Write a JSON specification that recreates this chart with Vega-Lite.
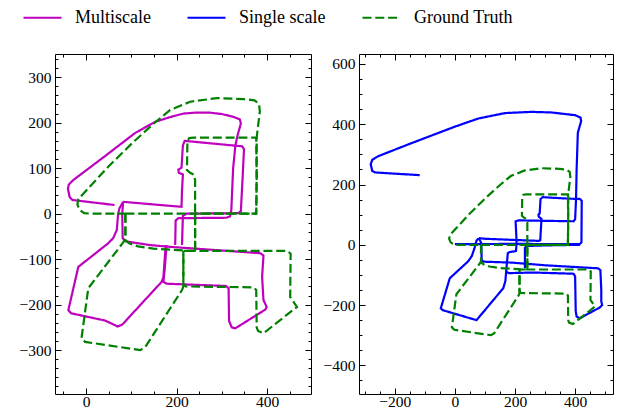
{
  "$schema": "https://vega.github.io/schema/vega-lite/v6.json",
  "autosize": {"type": "pad"},
  "padding": {"left": 18, "top": -3, "right": 4, "bottom": 2},
  "spacing": 10,
  "config": {
    "font": "Times New Roman, Liberation Serif, DejaVu Serif, serif",
    "view": {"stroke": "black", "strokeWidth": 1},
    "axis": {"domain": false, "grid": false, "labelFont": "Times New Roman, Liberation Serif, DejaVu Serif, serif", "labelFontSize": 15.5, "labelColor": "black", "tickColor": "black", "tickWidth": 1, "title": null, "labelOverlap": false, "labelBound": false, "labelFlush": false},
    "legend": {"labelFont": "Times New Roman, Liberation Serif, DejaVu Serif, serif", "padding": 0}
  },
  "datasets": {
    "gt": [
      {"s":"Ground Truth","g":1,"i":0,"x":87,"y":0},{"s":"Ground Truth","g":1,"i":1,"x":241,"y":0},{"s":"Ground Truth","g":1,"i":2,"x":376,"y":0},{"s":"Ground Truth","g":1,"i":3,"x":377,"y":90},{"s":"Ground Truth","g":1,"i":4,"x":377,"y":167},{"s":"Ground Truth","g":1,"i":5,"x":379,"y":184},{"s":"Ground Truth","g":1,"i":6,"x":384,"y":225},{"s":"Ground Truth","g":1,"i":7,"x":382,"y":242},{"s":"Ground Truth","g":1,"i":8,"x":372,"y":249},{"s":"Ground Truth","g":1,"i":9,"x":348,"y":252},{"s":"Ground Truth","g":1,"i":10,"x":289,"y":254},{"s":"Ground Truth","g":1,"i":11,"x":230,"y":246},{"s":"Ground Truth","g":1,"i":12,"x":186,"y":228},{"s":"Ground Truth","g":1,"i":13,"x":153,"y":201},{"s":"Ground Truth","g":1,"i":14,"x":105,"y":158},{"s":"Ground Truth","g":1,"i":15,"x":49,"y":103},{"s":"Ground Truth","g":1,"i":16,"x":-17,"y":32},{"s":"Ground Truth","g":1,"i":17,"x":-19,"y":20},{"s":"Ground Truth","g":1,"i":18,"x":-14,"y":8},{"s":"Ground Truth","g":1,"i":19,"x":-4,"y":1},{"s":"Ground Truth","g":1,"i":20,"x":10,"y":0},{"s":"Ground Truth","g":1,"i":21,"x":87,"y":0},
      {"s":"Ground Truth","g":2,"i":30,"x":241,"y":-82},{"s":"Ground Truth","g":2,"i":31,"x":241,"y":0},{"s":"Ground Truth","g":2,"i":32,"x":241,"y":74},{"s":"Ground Truth","g":2,"i":33,"x":238,"y":86},{"s":"Ground Truth","g":2,"i":34,"x":230,"y":90},{"s":"Ground Truth","g":2,"i":35,"x":223,"y":96},{"s":"Ground Truth","g":2,"i":36,"x":224,"y":160},{"s":"Ground Truth","g":2,"i":37,"x":228,"y":166},{"s":"Ground Truth","g":2,"i":38,"x":238,"y":167},{"s":"Ground Truth","g":2,"i":39,"x":376,"y":167},{"s":"Ground Truth","g":2,"i":40,"x":377,"y":80},{"s":"Ground Truth","g":2,"i":41,"x":376,"y":0},{"s":"Ground Truth","g":2,"i":42,"x":241,"y":0},
      {"s":"Ground Truth","g":3,"i":50,"x":87,"y":0},{"s":"Ground Truth","g":3,"i":51,"x":87,"y":-56},{"s":"Ground Truth","g":3,"i":52,"x":80,"y":-66},{"s":"Ground Truth","g":3,"i":53,"x":5,"y":-164},{"s":"Ground Truth","g":3,"i":54,"x":-10,"y":-274},{"s":"Ground Truth","g":3,"i":55,"x":-2,"y":-282},{"s":"Ground Truth","g":3,"i":56,"x":120,"y":-300},{"s":"Ground Truth","g":3,"i":57,"x":131,"y":-293},{"s":"Ground Truth","g":3,"i":58,"x":212,"y":-168},{"s":"Ground Truth","g":3,"i":59,"x":215,"y":-160},{"s":"Ground Truth","g":3,"i":60,"x":215,"y":-82},
      {"s":"Ground Truth","g":4,"i":70,"x":87,"y":0},{"s":"Ground Truth","g":4,"i":71,"x":87,"y":-58},{"s":"Ground Truth","g":4,"i":72,"x":95,"y":-65},{"s":"Ground Truth","g":4,"i":73,"x":115,"y":-72},{"s":"Ground Truth","g":4,"i":74,"x":149,"y":-77},{"s":"Ground Truth","g":4,"i":75,"x":215,"y":-81},{"s":"Ground Truth","g":4,"i":76,"x":241,"y":-82},{"s":"Ground Truth","g":4,"i":77,"x":445,"y":-82},{"s":"Ground Truth","g":4,"i":78,"x":452,"y":-88},{"s":"Ground Truth","g":4,"i":79,"x":451,"y":-183},{"s":"Ground Truth","g":4,"i":80,"x":466,"y":-205},{"s":"Ground Truth","g":4,"i":81,"x":392,"y":-263},{"s":"Ground Truth","g":4,"i":82,"x":380,"y":-258},{"s":"Ground Truth","g":4,"i":83,"x":377,"y":-250},{"s":"Ground Truth","g":4,"i":84,"x":376,"y":-168},{"s":"Ground Truth","g":4,"i":85,"x":370,"y":-162},{"s":"Ground Truth","g":4,"i":86,"x":220,"y":-160},{"s":"Ground Truth","g":4,"i":87,"x":215,"y":-155},{"s":"Ground Truth","g":4,"i":88,"x":215,"y":-82},{"s":"Ground Truth","g":4,"i":89,"x":241,"y":-82},{"s":"Ground Truth","g":4,"i":90,"x":241,"y":0}
    ],
    "ms": [
      {"s":"Multiscale","g":1,"i":0,"x":197,"y":-69},{"s":"Multiscale","g":1,"i":1,"x":198,"y":-15},{"s":"Multiscale","g":1,"i":2,"x":204,"y":-10},{"s":"Multiscale","g":1,"i":3,"x":310,"y":-9},{"s":"Multiscale","g":1,"i":4,"x":318,"y":-6},{"s":"Multiscale","g":1,"i":5,"x":321,"y":8},{"s":"Multiscale","g":1,"i":6,"x":325,"y":100},{"s":"Multiscale","g":1,"i":7,"x":330,"y":150},{"s":"Multiscale","g":1,"i":8,"x":335,"y":173},{"s":"Multiscale","g":1,"i":9,"x":342,"y":198},{"s":"Multiscale","g":1,"i":10,"x":340,"y":207},{"s":"Multiscale","g":1,"i":11,"x":325,"y":213},{"s":"Multiscale","g":1,"i":12,"x":300,"y":219},{"s":"Multiscale","g":1,"i":13,"x":274,"y":222},{"s":"Multiscale","g":1,"i":14,"x":240,"y":222},{"s":"Multiscale","g":1,"i":15,"x":215,"y":220},{"s":"Multiscale","g":1,"i":16,"x":185,"y":212},{"s":"Multiscale","g":1,"i":17,"x":153,"y":202},{"s":"Multiscale","g":1,"i":18,"x":108,"y":177},{"s":"Multiscale","g":1,"i":19,"x":40,"y":125},{"s":"Multiscale","g":1,"i":20,"x":-28,"y":74},{"s":"Multiscale","g":1,"i":21,"x":-38,"y":64},{"s":"Multiscale","g":1,"i":22,"x":-40,"y":55},{"s":"Multiscale","g":1,"i":23,"x":-36,"y":36},{"s":"Multiscale","g":1,"i":24,"x":-30,"y":30},{"s":"Multiscale","g":1,"i":25,"x":63,"y":19},
      {"s":"Multiscale","g":2,"i":30,"x":82,"y":26},{"s":"Multiscale","g":2,"i":31,"x":211,"y":15},{"s":"Multiscale","g":2,"i":32,"x":212,"y":50},{"s":"Multiscale","g":2,"i":33,"x":214,"y":86},{"s":"Multiscale","g":2,"i":34,"x":205,"y":90},{"s":"Multiscale","g":2,"i":35,"x":204,"y":97},{"s":"Multiscale","g":2,"i":36,"x":211,"y":101},{"s":"Multiscale","g":2,"i":37,"x":214,"y":150},{"s":"Multiscale","g":2,"i":38,"x":218,"y":160},{"s":"Multiscale","g":2,"i":39,"x":345,"y":148},{"s":"Multiscale","g":2,"i":40,"x":349,"y":142},{"s":"Multiscale","g":2,"i":41,"x":346,"y":80},{"s":"Multiscale","g":2,"i":42,"x":342,"y":5},{"s":"Multiscale","g":2,"i":43,"x":336,"y":1},{"s":"Multiscale","g":2,"i":44,"x":222,"y":0},{"s":"Multiscale","g":2,"i":45,"x":214,"y":-5},{"s":"Multiscale","g":2,"i":46,"x":212,"y":-69},
      {"s":"Multiscale","g":3,"i":50,"x":82,"y":26},{"s":"Multiscale","g":3,"i":51,"x":74,"y":12},{"s":"Multiscale","g":3,"i":52,"x":71,"y":0},{"s":"Multiscale","g":3,"i":53,"x":68,"y":-36},{"s":"Multiscale","g":3,"i":54,"x":60,"y":-54},{"s":"Multiscale","g":3,"i":55,"x":48,"y":-66},{"s":"Multiscale","g":3,"i":56,"x":-17,"y":-117},{"s":"Multiscale","g":3,"i":57,"x":-39,"y":-212},{"s":"Multiscale","g":3,"i":58,"x":-33,"y":-219},{"s":"Multiscale","g":3,"i":59,"x":42,"y":-235},{"s":"Multiscale","g":3,"i":60,"x":70,"y":-248},{"s":"Multiscale","g":3,"i":61,"x":80,"y":-244},{"s":"Multiscale","g":3,"i":62,"x":167,"y":-150},{"s":"Multiscale","g":3,"i":63,"x":171,"y":-140},{"s":"Multiscale","g":3,"i":64,"x":176,"y":-69},
      {"s":"Multiscale","g":4,"i":70,"x":82,"y":26},{"s":"Multiscale","g":4,"i":71,"x":80,"y":0},{"s":"Multiscale","g":4,"i":72,"x":81,"y":-54},{"s":"Multiscale","g":4,"i":73,"x":88,"y":-61},{"s":"Multiscale","g":4,"i":74,"x":141,"y":-69},{"s":"Multiscale","g":4,"i":75,"x":186,"y":-73},{"s":"Multiscale","g":4,"i":76,"x":300,"y":-81},{"s":"Multiscale","g":4,"i":77,"x":385,"y":-87},{"s":"Multiscale","g":4,"i":78,"x":392,"y":-92},{"s":"Multiscale","g":4,"i":79,"x":389,"y":-139},{"s":"Multiscale","g":4,"i":80,"x":392,"y":-190},{"s":"Multiscale","g":4,"i":81,"x":399,"y":-205},{"s":"Multiscale","g":4,"i":82,"x":396,"y":-211},{"s":"Multiscale","g":4,"i":83,"x":330,"y":-252},{"s":"Multiscale","g":4,"i":84,"x":322,"y":-250},{"s":"Multiscale","g":4,"i":85,"x":316,"y":-236},{"s":"Multiscale","g":4,"i":86,"x":315,"y":-164},{"s":"Multiscale","g":4,"i":87,"x":309,"y":-159},{"s":"Multiscale","g":4,"i":88,"x":178,"y":-154},{"s":"Multiscale","g":4,"i":89,"x":171,"y":-150},{"s":"Multiscale","g":4,"i":90,"x":174,"y":-120},{"s":"Multiscale","g":4,"i":91,"x":178,"y":-69}
    ],
    "ss": [
      {"s":"Single scale","g":1,"i":0,"x":0,"y":2},{"s":"Single scale","g":1,"i":1,"x":200,"y":3},{"s":"Single scale","g":1,"i":2,"x":415,"y":2},{"s":"Single scale","g":1,"i":3,"x":421,"y":8},{"s":"Single scale","g":1,"i":4,"x":422,"y":146},{"s":"Single scale","g":1,"i":5,"x":416,"y":152},{"s":"Single scale","g":1,"i":6,"x":380,"y":153},{"s":"Single scale","g":1,"i":7,"x":292,"y":158},{"s":"Single scale","g":1,"i":8,"x":285,"y":152},{"s":"Single scale","g":1,"i":9,"x":282,"y":104},{"s":"Single scale","g":1,"i":10,"x":278,"y":100},{"s":"Single scale","g":1,"i":11,"x":279,"y":93},{"s":"Single scale","g":1,"i":12,"x":288,"y":86},{"s":"Single scale","g":1,"i":13,"x":286,"y":50},{"s":"Single scale","g":1,"i":14,"x":284,"y":15},{"s":"Single scale","g":1,"i":15,"x":278,"y":13},{"s":"Single scale","g":1,"i":16,"x":200,"y":16},{"s":"Single scale","g":1,"i":17,"x":100,"y":20},{"s":"Single scale","g":1,"i":18,"x":80,"y":22},
      {"s":"Single scale","g":2,"i":30,"x":80,"y":22},{"s":"Single scale","g":2,"i":31,"x":72,"y":14},{"s":"Single scale","g":2,"i":32,"x":65,"y":-12},{"s":"Single scale","g":2,"i":33,"x":56,"y":-38},{"s":"Single scale","g":2,"i":34,"x":44,"y":-55},{"s":"Single scale","g":2,"i":35,"x":-17,"y":-111},{"s":"Single scale","g":2,"i":36,"x":-47,"y":-211},{"s":"Single scale","g":2,"i":37,"x":-40,"y":-217},{"s":"Single scale","g":2,"i":38,"x":72,"y":-250},{"s":"Single scale","g":2,"i":39,"x":161,"y":-144},{"s":"Single scale","g":2,"i":40,"x":168,"y":-120},{"s":"Single scale","g":2,"i":41,"x":172,"y":-72},{"s":"Single scale","g":2,"i":42,"x":176,"y":-28},{"s":"Single scale","g":2,"i":43,"x":182,"y":-24},{"s":"Single scale","g":2,"i":44,"x":203,"y":-21},{"s":"Single scale","g":2,"i":45,"x":205,"y":0},{"s":"Single scale","g":2,"i":46,"x":205,"y":15},{"s":"Single scale","g":2,"i":47,"x":202,"y":78},{"s":"Single scale","g":2,"i":48,"x":212,"y":81},{"s":"Single scale","g":2,"i":49,"x":395,"y":78},{"s":"Single scale","g":2,"i":50,"x":400,"y":85},{"s":"Single scale","g":2,"i":51,"x":403,"y":150},{"s":"Single scale","g":2,"i":52,"x":405,"y":250},{"s":"Single scale","g":2,"i":53,"x":409,"y":372},{"s":"Single scale","g":2,"i":54,"x":420,"y":410},{"s":"Single scale","g":2,"i":55,"x":418,"y":422},{"s":"Single scale","g":2,"i":56,"x":400,"y":430},{"s":"Single scale","g":2,"i":57,"x":322,"y":439},{"s":"Single scale","g":2,"i":58,"x":255,"y":441},{"s":"Single scale","g":2,"i":59,"x":167,"y":437},{"s":"Single scale","g":2,"i":60,"x":78,"y":419},{"s":"Single scale","g":2,"i":61,"x":0,"y":392},{"s":"Single scale","g":2,"i":62,"x":-150,"y":335},{"s":"Single scale","g":2,"i":63,"x":-255,"y":294},{"s":"Single scale","g":2,"i":64,"x":-275,"y":282},{"s":"Single scale","g":2,"i":65,"x":-280,"y":267},{"s":"Single scale","g":2,"i":66,"x":-275,"y":245},{"s":"Single scale","g":2,"i":67,"x":-265,"y":240},{"s":"Single scale","g":2,"i":68,"x":-117,"y":231},
      {"s":"Single scale","g":3,"i":70,"x":80,"y":22},{"s":"Single scale","g":3,"i":71,"x":88,"y":5},{"s":"Single scale","g":3,"i":72,"x":89,"y":-50},{"s":"Single scale","g":3,"i":73,"x":95,"y":-56},{"s":"Single scale","g":3,"i":74,"x":189,"y":-59},{"s":"Single scale","g":3,"i":75,"x":300,"y":-68},{"s":"Single scale","g":3,"i":76,"x":476,"y":-78},{"s":"Single scale","g":3,"i":77,"x":484,"y":-84},{"s":"Single scale","g":3,"i":78,"x":487,"y":-150},{"s":"Single scale","g":3,"i":79,"x":487,"y":-188},{"s":"Single scale","g":3,"i":80,"x":490,"y":-200},{"s":"Single scale","g":3,"i":81,"x":482,"y":-208},{"s":"Single scale","g":3,"i":82,"x":415,"y":-244},{"s":"Single scale","g":3,"i":83,"x":405,"y":-238},{"s":"Single scale","g":3,"i":84,"x":402,"y":-221},{"s":"Single scale","g":3,"i":85,"x":400,"y":-105},{"s":"Single scale","g":3,"i":86,"x":395,"y":-96},{"s":"Single scale","g":3,"i":87,"x":260,"y":-92},{"s":"Single scale","g":3,"i":88,"x":180,"y":-94},{"s":"Single scale","g":3,"i":89,"x":172,"y":-90},
      {"s":"Single scale","g":4,"i":90,"x":416,"y":0},{"s":"Single scale","g":4,"i":91,"x":300,"y":-2},{"s":"Single scale","g":4,"i":92,"x":240,"y":-4},{"s":"Single scale","g":4,"i":93,"x":233,"y":-10},{"s":"Single scale","g":4,"i":94,"x":233,"y":-78}
    ]
  },
  "hconcat": [
    {
      "width": 256, "height": 340,
      "layer": [
        {
          "data": {"name": "ms"},
          "mark": {"type": "line", "strokeWidth": 2.2},
          "encoding": {
            "x": {"field": "x", "type": "quantitative", "scale": {"domain": [-68.5, 497], "nice": false, "zero": false},
                  "axis": {"orient": "bottom", "values": [-50,0,50,100,150,200,250,300,350,400,450], "labelExpr": "datum.value % 200 === 0 ? datum.label : ''", "tickSize": {"condition": {"test": "datum.value % 200 === 0", "value": -6}, "value": -3}, "labelPadding": 6}},
            "y": {"field": "y", "type": "quantitative", "scale": {"domain": [-396.5, 351], "nice": false, "zero": false},
                  "axis": {"orient": "left", "values": [-380,-360,-340,-320,-300,-280,-260,-240,-220,-200,-180,-160,-140,-120,-100,-80,-60,-40,-20,0,20,40,60,80,100,120,140,160,180,200,220,240,260,280,300,320,340], "labelExpr": "datum.value % 100 === 0 ? datum.label : ''", "tickSize": {"condition": {"test": "datum.value % 100 === 0", "value": -6}, "value": -3}, "labelPadding": 10}},
            "detail": {"field": "g"},
            "order": {"field": "i"},
            "color": {"field": "s", "type": "nominal", "scale": {"domain": ["Multiscale", "Single scale", "Ground Truth"], "range": ["#bf00bf", "#0000ff", "#008000"]},
                      "legend": {"orient": "none", "legendX": -33, "legendY": -57, "padding": 0, "direction": "horizontal", "title": null, "symbolType": "stroke", "symbolSize": 1444, "symbolStrokeWidth": 2.2, "labelFont": "Times New Roman, Liberation Serif, DejaVu Serif, serif", "labelFontSize": 18, "labelColor": "black", "labelOffset": 12, "columnPadding": 32}},
            "strokeDash": {"field": "s", "type": "nominal", "scale": {"domain": ["Multiscale", "Single scale", "Ground Truth"], "range": [[1, 0], [1, 0], [9, 3.8]]},
                      "legend": {"orient": "none", "legendX": -33, "legendY": -57, "padding": 0, "direction": "horizontal", "title": null, "symbolType": "stroke", "symbolSize": 1444, "symbolStrokeWidth": 2.2, "labelFont": "Times New Roman, Liberation Serif, DejaVu Serif, serif", "labelFontSize": 18, "labelColor": "black", "labelOffset": 12, "columnPadding": 32}}
          }
        },
        {
          "data": {"name": "gt"},
          "mark": {"type": "line", "strokeWidth": 2.2},
          "encoding": {
            "x": {"field": "x", "type": "quantitative", "scale": {"domain": [-68.5, 497], "nice": false, "zero": false},
                  "axis": {"orient": "top", "labels": false, "values": [-50,0,50,100,150,200,250,300,350,400,450], "tickSize": {"condition": {"test": "datum.value % 200 === 0", "value": -6}, "value": -3}}},
            "y": {"field": "y", "type": "quantitative", "scale": {"domain": [-396.5, 351], "nice": false, "zero": false},
                  "axis": {"orient": "right", "labels": false, "values": [-380,-360,-340,-320,-300,-280,-260,-240,-220,-200,-180,-160,-140,-120,-100,-80,-60,-40,-20,0,20,40,60,80,100,120,140,160,180,200,220,240,260,280,300,320,340], "tickSize": {"condition": {"test": "datum.value % 100 === 0", "value": -6}, "value": -3}}},
            "detail": {"field": "g"},
            "order": {"field": "i"},
            "color": {"field": "s", "type": "nominal", "scale": {"domain": ["Multiscale", "Single scale", "Ground Truth"], "range": ["#bf00bf", "#0000ff", "#008000"]}},
            "strokeDash": {"field": "s", "type": "nominal", "scale": {"domain": ["Multiscale", "Single scale", "Ground Truth"], "range": [[1, 0], [1, 0], [9, 3.8]]}}
          }
        }
      ],
      "resolve": {"axis": {"x": "independent", "y": "independent"}}
    },
    {
      "width": 254, "height": 340,
      "layer": [
        {
          "data": {"name": "ss"},
          "mark": {"type": "line", "strokeWidth": 2.2},
          "encoding": {
            "x": {"field": "x", "type": "quantitative", "scale": {"domain": [-319, 526], "nice": false, "zero": false},
                  "axis": {"orient": "bottom", "values": [-300,-250,-200,-150,-100,-50,0,50,100,150,200,250,300,350,400,450,500], "labelExpr": "datum.value % 200 === 0 ? datum.label : ''", "tickSize": {"condition": {"test": "datum.value % 200 === 0", "value": -6}, "value": -3}, "labelPadding": 6}},
            "y": {"field": "y", "type": "quantitative", "scale": {"domain": [-495, 633], "nice": false, "zero": false},
                  "axis": {"orient": "left", "values": [-450,-400,-350,-300,-250,-200,-150,-100,-50,0,50,100,150,200,250,300,350,400,450,500,550,600], "labelExpr": "datum.value % 200 === 0 ? datum.label : ''", "tickSize": {"condition": {"test": "datum.value % 200 === 0", "value": -6}, "value": -3}, "labelPadding": 10}},
            "detail": {"field": "g"},
            "order": {"field": "i"},
            "color": {"field": "s", "type": "nominal", "scale": {"domain": ["Multiscale", "Single scale", "Ground Truth"], "range": ["#bf00bf", "#0000ff", "#008000"]},
                      "legend": {"orient": "none", "legendX": -33, "legendY": -57, "padding": 0, "direction": "horizontal", "title": null, "symbolType": "stroke", "symbolSize": 1444, "symbolStrokeWidth": 2.2, "labelFont": "Times New Roman, Liberation Serif, DejaVu Serif, serif", "labelFontSize": 18, "labelColor": "black", "labelOffset": 12, "columnPadding": 32}},
            "strokeDash": {"field": "s", "type": "nominal", "scale": {"domain": ["Multiscale", "Single scale", "Ground Truth"], "range": [[1, 0], [1, 0], [9, 3.8]]},
                      "legend": {"orient": "none", "legendX": -33, "legendY": -57, "padding": 0, "direction": "horizontal", "title": null, "symbolType": "stroke", "symbolSize": 1444, "symbolStrokeWidth": 2.2, "labelFont": "Times New Roman, Liberation Serif, DejaVu Serif, serif", "labelFontSize": 18, "labelColor": "black", "labelOffset": 12, "columnPadding": 32}}
          }
        },
        {
          "data": {"name": "gt"},
          "mark": {"type": "line", "strokeWidth": 2.2},
          "encoding": {
            "x": {"field": "x", "type": "quantitative", "scale": {"domain": [-319, 526], "nice": false, "zero": false},
                  "axis": {"orient": "top", "labels": false, "values": [-300,-250,-200,-150,-100,-50,0,50,100,150,200,250,300,350,400,450,500], "tickSize": {"condition": {"test": "datum.value % 200 === 0", "value": -6}, "value": -3}}},
            "y": {"field": "y", "type": "quantitative", "scale": {"domain": [-495, 633], "nice": false, "zero": false},
                  "axis": {"orient": "right", "labels": false, "values": [-450,-400,-350,-300,-250,-200,-150,-100,-50,0,50,100,150,200,250,300,350,400,450,500,550,600], "tickSize": {"condition": {"test": "datum.value % 200 === 0", "value": -6}, "value": -3}}},
            "detail": {"field": "g"},
            "order": {"field": "i"},
            "color": {"field": "s", "type": "nominal", "scale": {"domain": ["Multiscale", "Single scale", "Ground Truth"], "range": ["#bf00bf", "#0000ff", "#008000"]}},
            "strokeDash": {"field": "s", "type": "nominal", "scale": {"domain": ["Multiscale", "Single scale", "Ground Truth"], "range": [[1, 0], [1, 0], [9, 3.8]]}}
          }
        }
      ],
      "resolve": {"axis": {"x": "independent", "y": "independent"}}
    }
  ]
}
